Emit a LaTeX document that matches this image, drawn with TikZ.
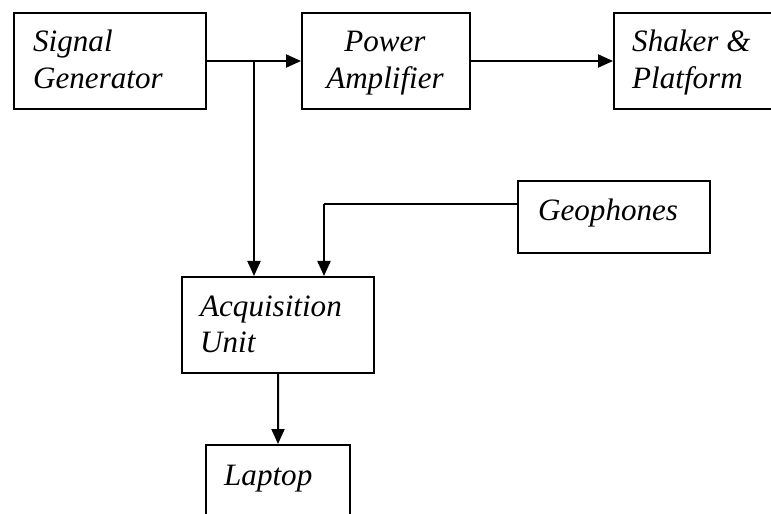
\documentclass[tikz,border=0pt]{standalone}
\usepackage{fontspec}
\setmainfont{Liberation Serif}
\usetikzlibrary{arrows.meta}
\tikzset{
  box/.style={draw=black, line width=2bp, rectangle, inner sep=0pt, anchor=north west},
  lbl/.style={inner sep=0pt, font=\fontsize{31.2}{37}\selectfont\itshape},
  arr/.style={line width=2bp, -{Triangle[length=15bp,width=13bp]}},
  ln/.style={line width=2bp}
}
\begin{document}
\begin{tikzpicture}[x=1bp,y=1bp]
\useasboundingbox (0,0) rectangle (771,-514);
\fill[white] (0,0) rectangle (771,-514);
\clip (0,0) rectangle (771,-514);
% boxes
\node[box, minimum width=192bp, minimum height=96bp] (sg) at (13,-12) {};
\node[box, minimum width=168bp, minimum height=96bp] (pa) at (301,-12) {};
\node[box, minimum width=190bp, minimum height=96bp] (sp) at (613,-12) {};
\node[box, minimum width=192bp, minimum height=72bp] (geo) at (517,-180) {};
\node[box, minimum width=192bp, minimum height=96bp] (acq) at (181,-276) {};
\node[box, minimum width=144bp, minimum height=100bp] (lap) at (205,-444) {};
% texts
\node[lbl, anchor=base west] (tsg) at (33,-52) {\begin{tabular}[t]{@{}l@{}}Signal\\Generator\end{tabular}};
\node[lbl, anchor=base] (tpa) at (385,-52) {\begin{tabular}[t]{@{}c@{}}Power\\Amplifier\end{tabular}};
\node[lbl, anchor=base west] (tsp) at (632,-52) {\begin{tabular}[t]{@{}l@{}}Shaker \&\\Platform\end{tabular}};
\node[lbl, anchor=base west] (tgeo) at (538,-221) {Geophones};
\node[lbl, anchor=base west] (tacq) at (200,-316) {\begin{tabular}[t]{@{}l@{}}Acquisition\\Unit\end{tabular}};
\node[lbl, anchor=base west] (tlap) at (224,-485) {Laptop};
% connectors
\coordinate (j) at (254,-60);
\coordinate (k) at (324,-204);
\draw[arr] (sg.east) -- (pa.west);
\draw[arr] (j) -- (j |- acq.north);
\draw[arr] (pa.east) -- (sp.west);
\draw[ln] (geo.west |- k) -- (k);
\draw[arr] (k) -- (k |- acq.north);
\draw[arr] (acq.south) -- (lap.north);
\end{tikzpicture}
\end{document}
